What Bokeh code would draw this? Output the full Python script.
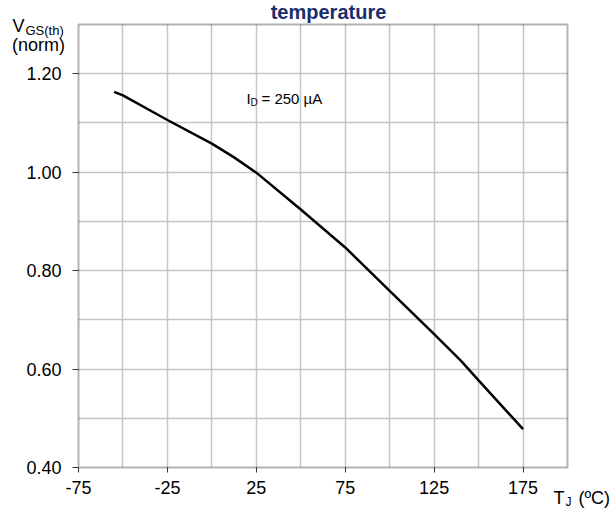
from bokeh.plotting import figure
from bokeh.models import Range1d, FixedTicker, Label, PrintfTickFormatter, BoxAnnotation, Grid
from bokeh.embed import file_html
from bokeh.resources import INLINE

# Data
temp_c = [-55, -50, -25, 0, 12.5, 25, 50, 75, 100, 125, 140, 150, 175]
vgs_norm = [1.163, 1.156, 1.106, 1.058, 1.030, 0.999, 0.924, 0.847, 0.759, 0.671, 0.617, 0.577, 0.478]

x_ticks = [-75, -25, 25, 75, 125, 175]
x_grid = [-50, -25, 0, 25, 50, 75, 100, 125, 150, 175]
y_ticks = [0.40, 0.60, 0.80, 1.00, 1.20]
y_grid = [0.5, 0.6, 0.7, 0.8, 0.9, 1.0, 1.1, 1.2]

X0, X1 = -75, 200
Y0, Y1 = 0.40, 1.30

W, H = 614, 508
FL, FR, FT, FB = 78, 567, 24, 467  # plot-box edges in pixels

FONT = "Liberation Sans"

# the drawing frame covers the whole canvas so that outside texts are not clipped
ux = (X1 - X0) / (FR - FL)
uy = (Y1 - Y0) / (FB - FT)
x_range = Range1d(X0 - FL * ux, X1 + (W - FR) * ux)
y_range = Range1d(Y0 - (H - FB) * uy, Y1 + FT * uy)

p = figure(width=W, height=H, output_backend="svg", toolbar_location=None,
           x_range=x_range, y_range=y_range,
           min_border=0, min_border_left=0, min_border_right=0,
           min_border_top=0, min_border_bottom=0, title=None)

p.outline_line_color = None
p.background_fill_color = "white"
p.border_fill_color = "white"

# grids, limited to the plot box
p.xgrid.ticker = FixedTicker(ticks=x_grid)
p.ygrid.ticker = FixedTicker(ticks=y_grid)
has_cross = "cross_bounds" in Grid.properties()
for g in (p.xgrid, p.ygrid):
    g.grid_line_color = "#c6c6c6"
    g.grid_line_width = 1.5
if has_cross:
    p.xgrid.bounds = (X0, X1)
    p.xgrid.cross_bounds = (Y0, Y1)
    p.ygrid.bounds = (Y0, Y1)
    p.ygrid.cross_bounds = (X0, X1)
else:
    for g in (p.xgrid, p.ygrid):
        g.grid_line_color = None
    p.segment(x0=x_grid, x1=x_grid, y0=[Y0] * len(x_grid), y1=[Y1] * len(x_grid),
              line_color="#c6c6c6", line_width=1.5)
    p.segment(x0=[X0] * len(y_grid), x1=[X1] * len(y_grid), y0=y_grid, y1=y_grid,
              line_color="#c6c6c6", line_width=1.5)

# axes placed at the edges of the plot box
p.xaxis.fixed_location = Y0
p.yaxis.fixed_location = X0
p.xaxis.bounds = (X0, X1)
p.yaxis.bounds = (Y0, Y1)
p.xaxis.ticker = FixedTicker(ticks=x_ticks)
p.yaxis.ticker = FixedTicker(ticks=y_ticks)
p.xaxis.major_label_overrides = {t: str(t) for t in x_ticks}
p.yaxis.formatter = PrintfTickFormatter(format="%.2f")
for ax in (p.xaxis, p.yaxis):
    ax.axis_line_color = None
    ax.major_tick_in = 0
    ax.minor_tick_line_color = None
    ax.major_tick_line_color = "#333333"
    ax.major_tick_line_width = 1
    ax.major_label_text_font = FONT
    ax.major_label_text_font_size = "18px"
    ax.major_label_text_color = "black"
p.xaxis.major_tick_out = 5
p.yaxis.major_tick_out = 6
p.xaxis.major_label_standoff = 8
p.yaxis.major_label_standoff = 11

# plot box outline
p.add_layout(BoxAnnotation(left=X0, right=X1, bottom=Y0, top=Y1,
                           fill_alpha=0, fill_color=None,
                           line_color="black", line_width=2))

p.line(temp_c, vgs_norm, line_color="black", line_width=2.5)


def px2x(px):
    return X0 + (px - FL) * ux


def py2y(py):
    return Y0 + (FB - py) * uy


def add_text(text, px, py, size, align="left", bold=False, color="black"):
    p.add_layout(Label(x=px2x(px), y=py2y(py), text=text, text_font=FONT,
                       text_font_size=f"{size}px", text_align=align,
                       text_baseline="alphabetic", text_color=color,
                       text_font_style="bold" if bold else "normal"))


# title (partly cut off at the top in the reference)
add_text("temperature", 328, 11, 20, align="center", bold=True, color="#1c2d6b")

# y axis title
add_text("V", 12, 25, 18)
add_text("GS(th)", 25, 30, 13)
add_text("(norm)", 38, 44, 18, align="center")

# x axis title
add_text("T", 553, 497, 18)
add_text("J", 565, 501, 12)
add_text("(ºC)", 578, 497, 18)

# annotation
add_text("I", 246, 98, 15)
add_text("D", 250, 102, 10)
add_text("= 250 µA", 261, 98, 15)

open("out.html", "w").write(file_html(p, INLINE))
